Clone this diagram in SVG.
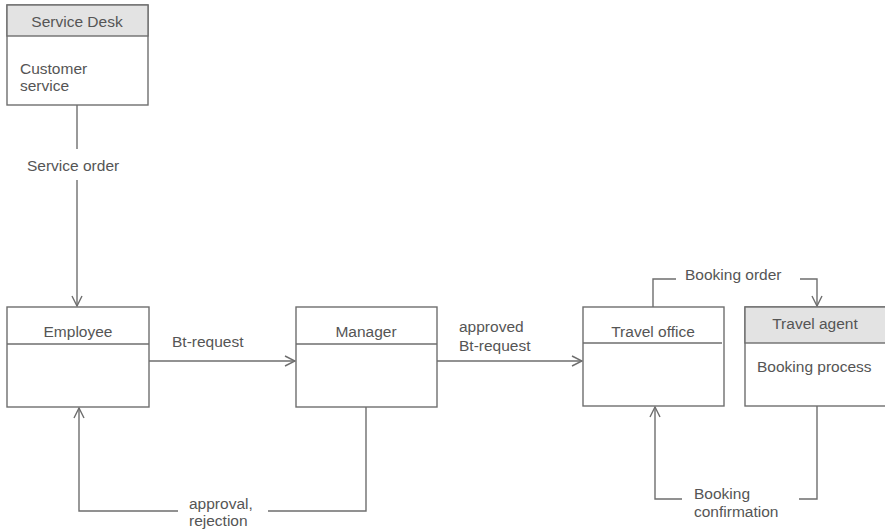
<svg xmlns="http://www.w3.org/2000/svg" width="885" height="532" viewBox="0 0 885 532">
<style>
.box{fill:#fff;stroke:#6e6e6e;stroke-width:1.4}
.hdr{fill:#e3e3e3;stroke:#6e6e6e;stroke-width:1.4}
.sep{stroke:#6e6e6e;stroke-width:1.4}
text{font-family:"Liberation Sans",Arial,sans-serif;font-size:15.5px;fill:#555}
.c{text-anchor:middle}
.ln{fill:none;stroke:#6e6e6e;stroke-width:1.4}
</style>
<defs>
<marker id="arr" viewBox="0 0 12 12" refX="11" refY="6" markerWidth="12" markerHeight="12" markerUnits="userSpaceOnUse" orient="auto">
<path d="M1,1 L11,6 L1,11" fill="none" stroke="#6e6e6e" stroke-width="1.4"/>
</marker>
</defs>
<rect width="885" height="532" fill="#fff"/>
<g id="connectors">
<path class="ln" d="M77,105 V149"/>
<path class="ln" d="M77,180 V306" marker-end="url(#arr)"/>
<path class="ln" d="M149,361 H295" marker-end="url(#arr)"/>
<path class="ln" d="M437,361 H582" marker-end="url(#arr)"/>
<path class="ln" d="M653,307 V279 H676"/>
<path class="ln" d="M800,279 H817 V306" marker-end="url(#arr)"/>
<path class="ln" d="M817,406 V499 H799"/>
<path class="ln" d="M682,499 H655 V407" marker-end="url(#arr)"/>
<path class="ln" d="M366,407 V511 H268"/>
<path class="ln" d="M178,511 H79 V408" marker-end="url(#arr)"/>
<text x="27" y="171">Service order</text>
<text x="172" y="347">Bt-request</text>
<text x="459" y="332">approved</text>
<text x="459" y="351">Bt-request</text>
<text x="685" y="280">Booking order</text>
<text x="694" y="499">Booking</text>
<text x="694" y="517">confirmation</text>
<text x="189" y="509">approval,</text>
<text x="189" y="526">rejection</text>
</g>
<g id="service-desk">
<rect class="box" x="7" y="5" width="141" height="100"/>
<rect class="hdr" x="7" y="5" width="141" height="31"/>
<text class="c" x="77" y="27">Service Desk</text>
<text x="20" y="74">Customer</text>
<text x="20" y="91">service</text>
</g>
<g id="employee">
<rect class="box" x="7" y="307" width="142" height="100"/>
<line class="sep" x1="7" y1="344" x2="149" y2="344"/>
<text class="c" x="78" y="337">Employee</text>
</g>
<g id="manager">
<rect class="box" x="296" y="307" width="141" height="100"/>
<line class="sep" x1="296" y1="344" x2="437" y2="344"/>
<text class="c" x="366" y="337">Manager</text>
</g>
<g id="travel-office">
<rect class="box" x="583" y="307" width="141" height="99"/>
<line class="sep" x1="583" y1="343" x2="722" y2="343"/>
<text class="c" x="653" y="337">Travel office</text>
</g>
<g id="travel-agent">
<rect class="box" x="745" y="307" width="145" height="99"/>
<rect class="hdr" x="745" y="307" width="145" height="36"/>
<text class="c" x="815" y="329">Travel agent</text>
<text x="757" y="372">Booking process</text>
</g>
</svg>
